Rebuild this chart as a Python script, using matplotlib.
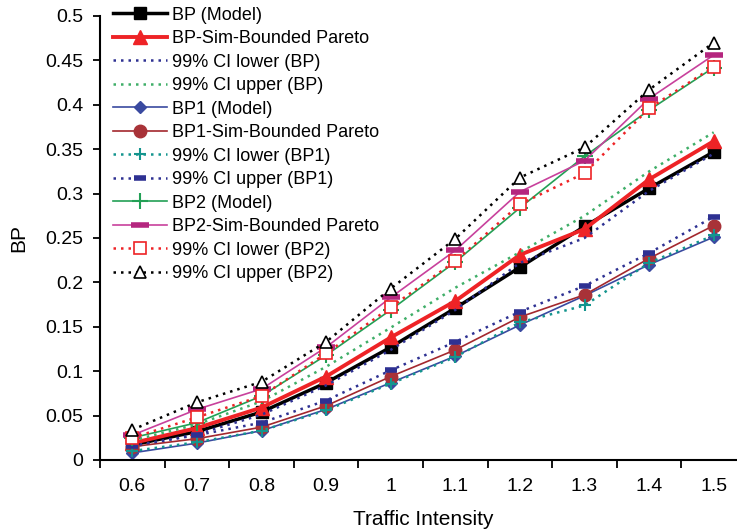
import matplotlib
matplotlib.use("Agg")
import matplotlib.pyplot as plt

plt.rcParams['font.family'] = ['Liberation Sans', 'DejaVu Sans']

intensity = ['0.6', '0.7', '0.8', '0.9', '1', '1.1', '1.2', '1.3', '1.4', '1.5']

bp_model = [0.017, 0.032, 0.054, 0.087, 0.127, 0.171, 0.217, 0.263, 0.306, 0.347]
bp_sim = [0.019, 0.036, 0.059, 0.094, 0.138, 0.179, 0.231, 0.260, 0.316, 0.359]
bp_lo = [0.015, 0.029, 0.051, 0.084, 0.124, 0.169, 0.222, 0.250, 0.303, 0.345]
bp_hi = [0.022, 0.040, 0.066, 0.105, 0.149, 0.194, 0.234, 0.275, 0.325, 0.369]

bp1_model = [0.008, 0.019, 0.033, 0.057, 0.087, 0.117, 0.152, 0.185, 0.220, 0.251]
bp1_sim = [0.015, 0.024, 0.037, 0.061, 0.094, 0.124, 0.161, 0.186, 0.227, 0.264]
bp1_lo = [0.010, 0.020, 0.033, 0.056, 0.086, 0.116, 0.155, 0.174, 0.222, 0.253]
bp1_hi = [0.016, 0.028, 0.042, 0.067, 0.101, 0.133, 0.167, 0.196, 0.233, 0.274]

bp2_model = [0.025, 0.042, 0.072, 0.118, 0.169, 0.223, 0.284, 0.342, 0.394, 0.442]
bp2_sim = [0.028, 0.057, 0.080, 0.127, 0.183, 0.236, 0.302, 0.337, 0.407, 0.456]
bp2_lo = [0.025, 0.048, 0.072, 0.120, 0.172, 0.224, 0.288, 0.323, 0.396, 0.443]
bp2_hi = [0.034, 0.065, 0.088, 0.133, 0.193, 0.249, 0.318, 0.352, 0.417, 0.470]

x = list(range(len(intensity)))
dot = (0, (1, 2))

fig = plt.figure(figsize=(7.37, 5.32), dpi=100)
ax = fig.add_axes([100/737, 72/532, 646/737, 444/532])

ax.plot(x, bp_model, color='black', lw=2.5, marker='s', ms=9, label='BP (Model)')
ax.plot(x, bp_sim, color='#ee2326', lw=2.8, marker='^', ms=10, label='BP-Sim-Bounded Pareto')
ax.plot(x, bp_lo, color='#2e3192', lw=1.8, ls=dot, label='99% CI lower (BP)')
ax.plot(x, bp_hi, color='#3fae68', lw=1.8, ls=dot, label='99% CI upper (BP)')
ax.plot(x, bp1_model, color='#3a4aa0', lw=1.2, marker='D', ms=6, label='BP1 (Model)')
ax.plot(x, bp1_sim, color='#a3282e', lw=1.2, marker='o', ms=9, mfc='#a83238', mec='#a83238', label='BP1-Sim-Bounded Pareto')
ax.plot(x, bp1_lo, color='#14958e', lw=1.8, ls=dot, marker='+', ms=9, mew=1.5, label='99% CI lower (BP1)')
ax.plot(x, bp1_hi, color='#2e3192', lw=1.8, ls=dot, marker='_', ms=8, mew=4, label='99% CI upper (BP1)')
ax.plot(x, bp2_model, color='#22a055', lw=1.2, marker='+', ms=11, mew=1.5, label='BP2 (Model)')
ax.plot(x, bp2_sim, color='#c8419c', lw=1.2, marker='_', ms=13, mew=4, mec='#b5267f', label='BP2-Sim-Bounded Pareto')
ax.plot(x, bp2_lo, color='#ee2326', lw=1.8, ls=dot, marker='s', ms=8, mfc='white', mew=1.2, label='99% CI lower (BP2)')
ax.plot(x, bp2_hi, color='black', lw=1.8, ls=dot, marker='^', ms=9, mfc='white', mew=1.2, label='99% CI upper (BP2)')

ax.set_xlim(-0.5, 9.5)
ax.set_ylim(0, 0.5)
# tick marks sit between categories, labels sit under them
ax.set_xticks([i + 0.5 for i in range(-1, 10)])
ax.set_xticklabels([])
ax.set_xticks(x, minor=True)
ax.set_xticklabels(intensity, minor=True)
ax.tick_params(axis='x', which='minor', length=0, pad=13, labelsize=14)
ax.tick_params(axis='x', which='major', length=6, width=1.3, direction='out')
ax.set_yticks([i * 0.05 for i in range(11)])
ax.set_yticklabels(['0', '0.05', '0.1', '0.15', '0.2', '0.25', '0.3', '0.35', '0.4', '0.45', '0.5'])
ax.tick_params(axis='y', length=5, width=1.3, direction='out', labelsize=14, pad=7)

for side in ['top', 'right']:
    ax.spines[side].set_visible(False)
for side in ['left', 'bottom']:
    ax.spines[side].set_linewidth(1.5)

ax.set_xlabel('Traffic Intensity', fontsize=15, labelpad=11)
ax.set_ylabel('BP', fontsize=15, labelpad=12)

ax.legend(loc='upper left', bbox_to_anchor=(109/737, 1 - 3/532), bbox_transform=fig.transFigure,
          frameon=False, fontsize=13, handlelength=3.0, handletextpad=0.3,
          labelspacing=0.36, borderpad=0.2, borderaxespad=0)

fig.savefig('out.png', dpi=100)
